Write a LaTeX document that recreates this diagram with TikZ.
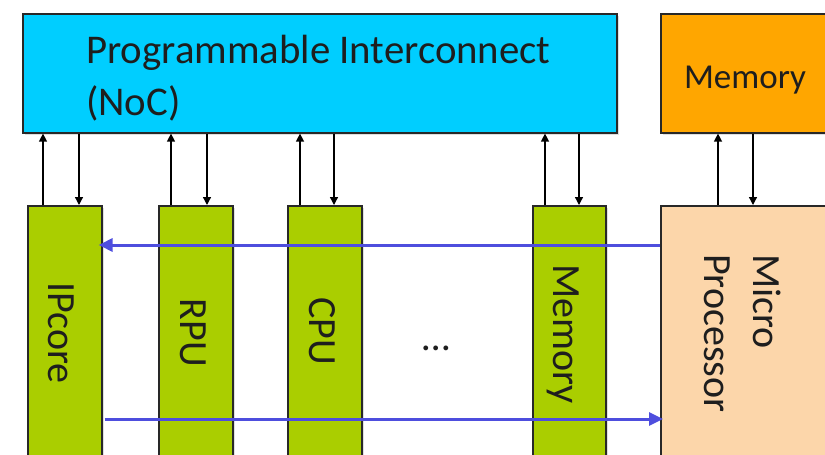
\documentclass[tikz,border=0pt]{standalone}
\usepackage{fontspec}
\setmainfont{Carlito}
\usetikzlibrary{arrows.meta,shadows}
\definecolor{noccyan}{RGB}{0,206,255}
\definecolor{memorange}{RGB}{255,166,0}
\definecolor{pegreen}{RGB}{170,206,0}
\definecolor{mppeach}{RGB}{252,214,170}
\definecolor{linkblue}{RGB}{78,78,222}
\definecolor{edgegray}{RGB}{40,40,40}
\definecolor{textgray}{RGB}{30,30,30}
\begin{document}
\begin{tikzpicture}[x=1pt,y=-1pt,
  box/.style={draw=edgegray, line width=1.6pt, anchor=north west, inner sep=0pt,
    drop shadow={opacity=0.25,shadow xshift=2pt,shadow yshift=-2pt}},
  pebox/.style={box, fill=pegreen, minimum width=74pt, minimum height=300pt},
  biglabel/.style={font=\fontsize{40}{48}\selectfont, text=textgray, inner sep=0pt},
  vlabel/.style={biglabel, rotate=-90, anchor=base},
  link/.style={draw=black, line width=1.3pt, -{Triangle[length=8pt,width=8pt]}},
  bluelink/.style={draw=linkblue, line width=3pt, -{Triangle[length=14pt,width=13pt]}}
]
\useasboundingbox (0,0) rectangle (825,455);
\clip (0,0) rectangle (825,455);

% top boxes
\node[box, fill=noccyan, minimum width=594pt, minimum height=119pt] (noc) at (22,13) {};
\node[box, fill=memorange, minimum width=200pt, minimum height=119pt] (mem) at (660,13) {};

% bottom boxes
\node[pebox] (ip) at (27,205) {};
\node[pebox] (rpu) at (158,205) {};
\node[pebox] (cpu) at (287,205) {};
\node[pebox, minimum width=73pt] (gmem) at (532,205) {};
\node[box, fill=mppeach, minimum width=200pt, minimum height=300pt] (mp) at (660,205) {};

% texts
\node[biglabel, font=\fontsize{40.8}{48}\selectfont, anchor=base west] (noct1) at (86,63) {Programmable Interconnect};
\node[biglabel, font=\fontsize{40.8}{48}\selectfont, anchor=base west] (noct2) at (86,115) {(NoC)};
\node[font=\fontsize{35}{42}\selectfont, text=textgray, inner sep=0pt, anchor=base] (memt) at (745,88) {Memory};
\node[vlabel] (ipt) at (48,333) {IPcore};
\node[vlabel] (rput) at (180,333) {RPU};
\node[vlabel] (cput) at (309,331) {CPU};
\node[vlabel] (gmemt) at (553,334) {Memory};
\node[biglabel, rotate=-90, anchor=base west] (mpt1) at (753,254) {Micro};
\node[biglabel, rotate=-90, anchor=base west] (mpt2) at (704,254) {Processor};
\node[biglabel, anchor=base] (dots) at (436,350) {…};

% black links
\foreach \b/\u/\d in {ip/16/52, rpu/13/49, cpu/13/47, gmem/13/47} {
  \draw[link] ([xshift=\u pt]\b.north west) -- ([xshift=\u pt]\b.north west |- noc.south);
  \draw[link] ([xshift=\d pt]\b.north west |- noc.south) -- ([xshift=\d pt]\b.north west);
}
\draw[link] ([xshift=58pt]mp.north west) -- ([xshift=58pt]mp.north west |- mem.south);
\draw[link] ([xshift=93pt]mp.north west |- mem.south) -- ([xshift=93pt]mp.north west);

% blue links
\coordinate (ytop) at (0,245);
\coordinate (ybot) at (0,419);
\draw[bluelink] (mp.west |- ytop) -- ([xshift=-4pt]ip.east |- ytop);
\draw[bluelink] ([xshift=2pt]ip.east |- ybot) -- ([xshift=3pt]mp.west |- ybot);
\end{tikzpicture}
\end{document}
